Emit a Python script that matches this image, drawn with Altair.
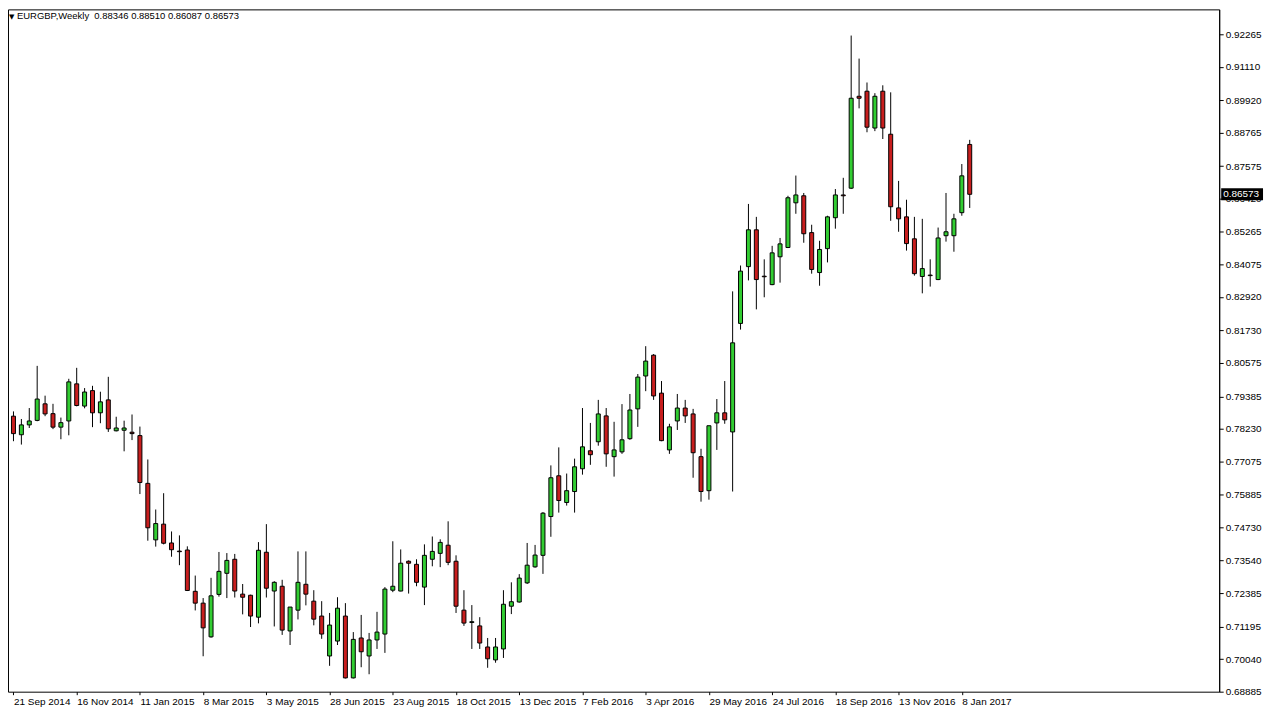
import altair as alt
import pandas as pd

# ---- data (EURGBP weekly candles) ----
symbol = "EURGBP"
timeframe = "Weekly"
first_week = "2014-09-21"
n_weeks = 122

opens = [0.7868, 0.7802, 0.7837, 0.7853, 0.7912, 0.7877, 0.7829, 0.7851, 0.7983, 0.7904,
         0.7959, 0.7880, 0.7926, 0.7816, 0.7818, 0.7811, 0.7799, 0.7629, 0.7428, 0.7484,
         0.7417, 0.7388, 0.7392, 0.7245, 0.7203, 0.7083, 0.7234, 0.7309, 0.7359, 0.7235,
         0.7231, 0.7153, 0.7384, 0.7246, 0.7263, 0.7104, 0.7178, 0.7270, 0.7210, 0.7157,
         0.7015, 0.7068, 0.7157, 0.6937, 0.7079, 0.7015, 0.7072, 0.7093, 0.7249, 0.7246,
         0.7352, 0.7341, 0.7260, 0.7359, 0.7380, 0.7409, 0.7352, 0.7178, 0.7134, 0.7122,
         0.7047, 0.7001, 0.7040, 0.7192, 0.7207, 0.7275, 0.7332, 0.7373, 0.7511, 0.7656,
         0.7561, 0.7600, 0.7681, 0.7745, 0.7777, 0.7869, 0.7724, 0.7741, 0.7788, 0.7894,
         0.8011, 0.8085, 0.7950, 0.7748, 0.7851, 0.7897, 0.7876, 0.7724, 0.7603, 0.7844,
         0.7880, 0.7812, 0.8198, 0.8400, 0.8531, 0.8366, 0.8336, 0.8435, 0.8468, 0.8627,
         0.8652, 0.8521, 0.8379, 0.8464, 0.8574, 0.8655, 0.8679, 0.9006, 0.9024, 0.8893,
         0.9024, 0.8871, 0.8609, 0.8577, 0.8499, 0.8365, 0.8370, 0.8354, 0.8510, 0.8510,
         0.8592, 0.88346]
highs = [0.7885, 0.7858, 0.7897, 0.8047, 0.7941, 0.7912, 0.7863, 0.8001, 0.8040, 0.7968,
         0.7976, 0.7955, 0.8008, 0.7866, 0.7852, 0.7874, 0.7831, 0.7714, 0.7536, 0.7594,
         0.7458, 0.7444, 0.7405, 0.7301, 0.7221, 0.7293, 0.7385, 0.7381, 0.7378, 0.7271,
         0.7233, 0.7420, 0.7484, 0.7281, 0.7286, 0.7189, 0.7387, 0.7387, 0.7249, 0.7210,
         0.7168, 0.7224, 0.7203, 0.7100, 0.7161, 0.7097, 0.7172, 0.7260, 0.7423, 0.7394,
         0.7355, 0.7359, 0.7412, 0.7440, 0.7430, 0.7494, 0.7373, 0.7249, 0.7196, 0.7153,
         0.7079, 0.7079, 0.7249, 0.7277, 0.7306, 0.7417, 0.7410, 0.7527, 0.7693, 0.7757,
         0.7664, 0.7717, 0.7897, 0.7844, 0.7926, 0.7897, 0.7848, 0.7911, 0.7947, 0.8018,
         0.8117, 0.8089, 0.7993, 0.7841, 0.7947, 0.7926, 0.7894, 0.7752, 0.7834, 0.7929,
         0.7993, 0.8312, 0.8404, 0.8623, 0.8577, 0.8426, 0.8474, 0.8502, 0.8652, 0.8724,
         0.8662, 0.8549, 0.8492, 0.8581, 0.8676, 0.8716, 0.9222, 0.9140, 0.9055, 0.9017,
         0.9045, 0.9020, 0.8705, 0.8638, 0.8577, 0.8570, 0.8426, 0.8539, 0.8662, 0.8588,
         0.8765, 0.88510]
lows = [0.7779, 0.7767, 0.7826, 0.7850, 0.7868, 0.7822, 0.7786, 0.7800, 0.7903, 0.7896,
        0.7829, 0.7843, 0.7812, 0.7814, 0.7743, 0.7783, 0.7591, 0.7425, 0.7404, 0.7412,
        0.7368, 0.7338, 0.7246, 0.7177, 0.7014, 0.7080, 0.7226, 0.7221, 0.7223, 0.7163,
        0.7118, 0.7131, 0.7223, 0.7120, 0.7090, 0.7054, 0.7145, 0.7195, 0.7124, 0.7076,
        0.6980, 0.7054, 0.6935, 0.6935, 0.6975, 0.6950, 0.7040, 0.7026, 0.7242, 0.7245,
        0.7237, 0.7263, 0.7196, 0.7334, 0.7331, 0.7338, 0.7168, 0.7122, 0.7040, 0.7040,
        0.6973, 0.6991, 0.7008, 0.7164, 0.7205, 0.7271, 0.7329, 0.7307, 0.7439, 0.7525,
        0.7550, 0.7525, 0.7660, 0.7695, 0.7763, 0.7688, 0.7653, 0.7734, 0.7784, 0.7830,
        0.7957, 0.7926, 0.7779, 0.7734, 0.7819, 0.7844, 0.7649, 0.7564, 0.7571, 0.7748,
        0.7841, 0.7600, 0.8176, 0.8351, 0.8248, 0.8291, 0.8334, 0.8343, 0.8466, 0.8588,
        0.8485, 0.8375, 0.8332, 0.8415, 0.8535, 0.8588, 0.8676, 0.8963, 0.8878, 0.8882,
        0.8854, 0.8563, 0.8524, 0.8457, 0.8368, 0.8305, 0.8329, 0.8352, 0.8489, 0.8453,
        0.8581, 0.86087]
closes = [0.7806, 0.7837, 0.7851, 0.7929, 0.7876, 0.7829, 0.7845, 0.7990, 0.7906, 0.7954,
          0.7880, 0.7919, 0.7823, 0.7826, 0.7826, 0.7806, 0.7632, 0.7471, 0.7486, 0.7416,
          0.7393, 0.7386, 0.7248, 0.7203, 0.7115, 0.7229, 0.7316, 0.7355, 0.7246, 0.7224,
          0.7157, 0.7391, 0.7256, 0.7277, 0.7107, 0.7189, 0.7277, 0.7235, 0.7146, 0.7093,
          0.7125, 0.7185, 0.6937, 0.7074, 0.7030, 0.7072, 0.7100, 0.7253, 0.7263, 0.7345,
          0.7345, 0.7277, 0.7373, 0.7387, 0.7419, 0.7348, 0.7192, 0.7132, 0.7137, 0.7061,
          0.7005, 0.7047, 0.7199, 0.7208, 0.7292, 0.7338, 0.7374, 0.7523, 0.7649, 0.7568,
          0.7603, 0.7688, 0.7759, 0.7731, 0.7876, 0.7734, 0.7748, 0.7784, 0.7890, 0.8007,
          0.8064, 0.7940, 0.7781, 0.7830, 0.7897, 0.7869, 0.7738, 0.7600, 0.7834, 0.7880,
          0.7855, 0.8129, 0.8384, 0.8531, 0.8354, 0.8364, 0.8449, 0.8481, 0.8645, 0.8655,
          0.8517, 0.8390, 0.8461, 0.8577, 0.8655, 0.8652, 0.8999, 0.8999, 0.8896, 0.9006,
          0.8893, 0.8613, 0.8570, 0.8482, 0.8375, 0.8393, 0.8368, 0.8502, 0.8524, 0.8570,
          0.8723, 0.86573]

price_ticks = [0.92265, 0.91110, 0.89920, 0.88765, 0.87575, 0.86420, 0.85265, 0.84075,
               0.82920, 0.81730, 0.80575, 0.79385, 0.78230, 0.77075, 0.75885, 0.74730,
               0.73540, 0.72385, 0.71195, 0.70040, 0.68885]
date_ticks = ["2014-09-21", "2014-11-16", "2015-01-11", "2015-03-08", "2015-05-03",
              "2015-06-28", "2015-08-23", "2015-10-18", "2015-12-13", "2016-02-07",
              "2016-04-03", "2016-05-29", "2016-07-24", "2016-09-18", "2016-11-13",
              "2017-01-08"]
price_domain = [0.68880, 0.93151]

GREEN = "#32cd32"
RED = "#c81e1e"
FONT = "Liberation Sans"
W, H = 1216, 685


def ms(s):
    return int(pd.Timestamp(s, tz="UTC").timestamp() * 1000)


week_ms = 7 * 86400000
dates = pd.date_range(first_week, periods=n_weeks, freq="7D", tz="UTC")
df = pd.DataFrame({
    "date": [int(d.timestamp() * 1000) for d in dates],
    "open": opens, "high": highs, "low": lows, "close": closes,
})
df["dir"] = ["up" if c >= o else "down" for o, c in zip(opens, closes)]

x_start = ms(first_week) - week_ms // 16          # half a pixel before first candle
x_end = x_start + int(W / 8 * week_ms)            # 8 px per weekly bar

x_enc = alt.X(
    "date:T",
    scale=alt.Scale(type="utc", domain=[x_start, x_end]),
    axis=alt.Axis(
        values=[ms(s) for s in date_ticks],
        labelExpr="utcFormat(datum.value, '%-d %b %Y')",
        labelAlign="left", labelFlush=False, labelOverlap=False, labelBound=False,
        labelFont=FONT, labelFontSize=10, labelColor="black", labelPadding=2,
        tickSize=3, tickColor="black", domain=False, grid=False, title=None,
    ),
)


def y_enc(field):
    return alt.Y(
        f"{field}:Q",
        scale=alt.Scale(domain=price_domain, nice=False, zero=False),
        axis=alt.Axis(
            orient="right", values=price_ticks, format=".5f",
            labelFont=FONT, labelFontSize=10, labelColor="black", labelPadding=2,
            labelOverlap=False, labelFlush=False, labelBound=False,
            tickSize=4, tickColor="black", domainColor="black", grid=False, title=None,
        ),
    )


base = alt.Chart(df)
wicks = base.mark_rule(color="black", strokeWidth=1, clip=True).encode(
    x=x_enc, y=y_enc("low"), y2="high:Q"
)
bodies = base.mark_bar(size=4, stroke="black", strokeWidth=1, clip=True).encode(
    x=x_enc, y=y_enc("open"), y2="close:Q",
    color=alt.Color("dir:N", scale=alt.Scale(domain=["up", "down"], range=[GREEN, RED]),
                    legend=None),
)

last = pd.DataFrame({"price": [closes[-1]]})
tag_box = alt.Chart(last).mark_rule(color="black", strokeWidth=12, strokeCap="butt").encode(
    y=y_enc("price"), x=alt.value(W + 2), x2=alt.value(W + 44)
)
tag_text = alt.Chart(last).mark_text(
    color="white", align="left", baseline="middle", font=FONT, fontSize=10
).encode(
    y=y_enc("price"), x=alt.value(W + 4), text=alt.Text("price:Q", format=".5f")
)

sp = "\u00a0"
header_str = (f"{symbol},{timeframe}{sp}{sp}{opens[-1]:.5f}{sp}{highs[-1]:.5f}"
              f"{sp}{lows[-1]:.5f}{sp}{closes[-1]:.5f}")
header = alt.Chart(pd.DataFrame({"t": [header_str]})).mark_text(
    align="left", baseline="top", font=FONT, fontSize=9.5, color="black"
).encode(text="t:N", x=alt.value(9), y=alt.value(2))
arrow = alt.Chart(pd.DataFrame({"t": ["▼"]})).mark_text(
    align="left", baseline="top", font="DejaVu Sans", fontSize=7, color="black"
).encode(text="t:N", x=alt.value(1), y=alt.value(4))

chart = alt.layer(wicks, bodies, tag_box, tag_text, header, arrow).properties(
    width=W, height=H, padding=0, background="white"
).configure_view(stroke="black", strokeWidth=1)

chart.save("out.html", embed_options={"renderer": "svg", "actions": False})
